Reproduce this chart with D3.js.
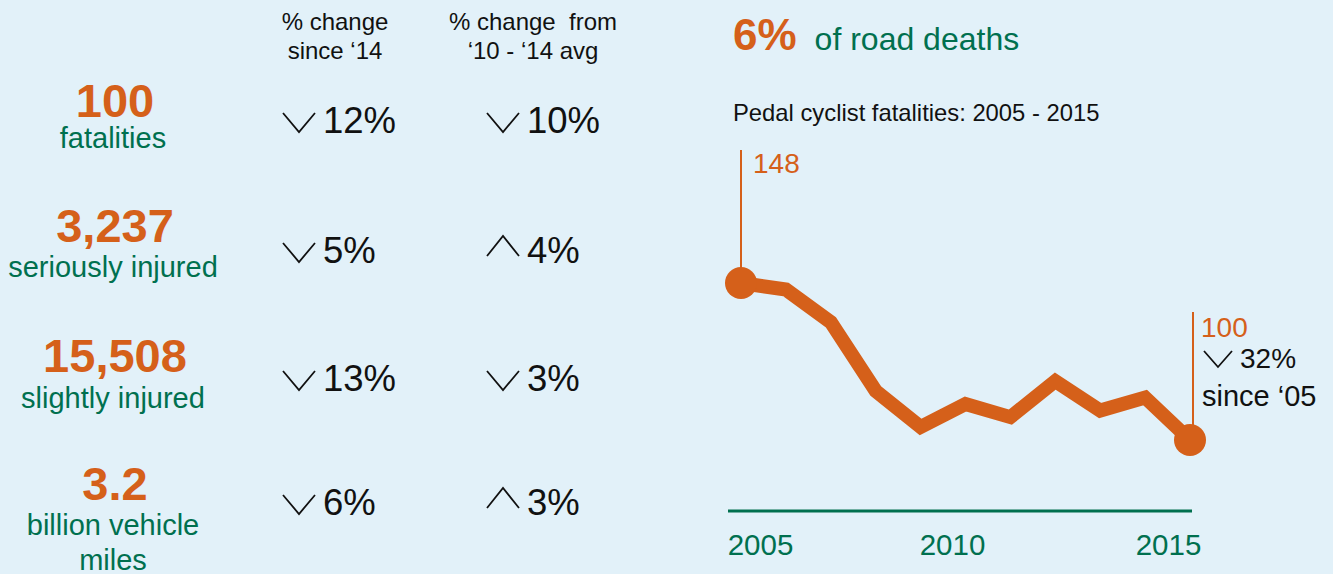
<!DOCTYPE html>
<html lang="en">
	<head>
		<meta charset="utf-8">
		<title>Pedal cyclists</title>
		<script type="text/javascript" src="https://cdn.jsdelivr.net/npm/d3@7"></script>
		<style type="text/css">
			body { margin: 0; background: #e2f1f9; }
			text { font-family: "Liberation Sans", Arial, sans-serif; }
		</style>
	</head>

	<body>
		<script type="text/javascript">
			/* left hand panel */
			var statValues = ["100", "3,237", "15,508", "3.2"];
			var statLabels = [["fatalities"], ["seriously injured"], ["slightly injured"], ["billion vehicle", "miles"]];
			var changeSince14 = [-12, -5, -13, -6];
			var changeVsAvg = [-10, 4, -3, 3];
			var colHeaders = [["% change", "since \u201814"], ["% change  from", "\u201810 - \u201814 avg"]];

			/* line chart */
			var years = [2005, 2006, 2007, 2008, 2009, 2010, 2011, 2012, 2013, 2014, 2015];
			var fatalities = [148, 146, 136, 115, 104, 111, 107, 118, 109, 113, 100];
			var tickYears = [2005, 2010, 2015];

			var orange = "#d5601a";
			var green = "#00704f";

			var svgWidth = 1333;
			var svgHeight = 574;

			var svg = d3.select("body")
				.append("svg")
				.attr("width", svgWidth)
				.attr("height", svgHeight);

			// baselines: % change lines, big numbers, first label line
			var rowY = [133, 263, 391, 515];
			var valueY = [117, 242, 372, 500];
			var labelY = [148, 277, 408, 535];

			// v or ^ drawn as a thin path, x = left edge, y = text baseline
			function chevron(g, x, y, up) {
				var p = d3.path();
				if (up) {
					p.moveTo(x, y - 7); p.lineTo(x + 16, y - 27); p.lineTo(x + 32, y - 7);
				} else {
					p.moveTo(x, y - 20); p.lineTo(x + 16, y - 1); p.lineTo(x + 32, y - 20);
				}
				g.append("path")
					.attr("d", p.toString())
					.attr("fill", "none")
					.attr("stroke", "#111")
					.attr("stroke-width", 1.8);
			}

			var rows = statValues.map(function(v, i) {
				return { value: v, label: statLabels[i], a: changeSince14[i], b: changeVsAvg[i],
					y: rowY[i], vy: valueY[i], ly: labelY[i] };
			});

			var row = svg.selectAll("g.row")
				.data(rows)
				.enter()
				.append("g")
				.attr("class", "row");

			row.append("text")
				.text(function(d) { return d.value; })
				.attr("x", 115)
				.attr("y", function(d) { return d.vy; })
				.attr("text-anchor", "middle")
				.attr("font-size", 47)
				.attr("font-weight", "bold")
				.attr("fill", orange);

			row.each(function(d) {
				var g = d3.select(this);
				d.label.forEach(function(line, j) {
					g.append("text")
						.text(line)
						.attr("x", 113)
						.attr("y", d.ly + j * 35)
						.attr("text-anchor", "middle")
						.attr("font-size", 29)
						.attr("fill", green);
				});
				[[d.a, 283, 323], [d.b, 487, 527]].forEach(function(c) {
					chevron(g, c[1], d.y, c[0] > 0);
					g.append("text")
						.text(Math.abs(c[0]) + "%")
						.attr("x", c[2])
						.attr("y", d.y)
						.attr("font-size", 36.5)
						.attr("fill", "#111");
				});
			});

			// column headers
			[335, 533].forEach(function(cx, i) {
				colHeaders[i].forEach(function(line, j) {
					svg.append("text")
						.text(line)
						.attr("x", cx)
						.attr("y", 30 + j * 29)
						.attr("text-anchor", "middle")
						.attr("font-size", 24)
						.attr("fill", "#111")
						.style("white-space", "pre");
				});
			});

			/* right hand panel */
			var title = svg.append("text").attr("x", 733).attr("y", 50);
			title.append("tspan").text("6%")
				.attr("font-size", 44).attr("font-weight", "bold").attr("fill", orange);
			title.append("tspan").text("of road deaths")
				.attr("dx", 18)
				.attr("font-size", 32).attr("fill", green);

			svg.append("text")
				.text("Pedal cyclist fatalities: 2005 - 2015")
				.attr("x", 733)
				.attr("y", 121)
				.attr("font-size", 23.8)
				.attr("fill", "#111");

			var x = d3.scaleLinear().domain([2005, 2015]).range([741, 1190]);
			var y = d3.scaleLinear().domain([100, 148]).range([440, 283]);

			var pts = years.map(function(yr, i) { return [yr, fatalities[i]]; });

			svg.append("path")
				.datum(pts)
				.attr("d", d3.line()
					.x(function(d) { return x(d[0]); })
					.y(function(d) { return y(d[1]); }))
				.attr("fill", "none")
				.attr("stroke", orange)
				.attr("stroke-width", 14)
				.attr("stroke-linejoin", "miter");

			var ends = [pts[0], pts[pts.length - 1]];
			svg.selectAll("circle.end")
				.data(ends)
				.enter()
				.append("circle")
				.attr("class", "end")
				.attr("cx", function(d) { return x(d[0]); })
				.attr("cy", function(d) { return y(d[1]); })
				.attr("r", 16)
				.attr("fill", orange);

			// leader lines and value labels at both ends
			var first = pts[0], last = pts[pts.length - 1];
			svg.append("line")
				.attr("x1", x(first[0])).attr("x2", x(first[0]))
				.attr("y1", 150).attr("y2", y(first[1]) - 12)
				.attr("stroke", orange).attr("stroke-width", 2);
			svg.append("text")
				.text(first[1])
				.attr("x", x(first[0]) + 12).attr("y", 173)
				.attr("font-size", 28).attr("fill", orange);

			svg.append("line")
				.attr("x1", x(last[0]) + 3).attr("x2", x(last[0]) + 3)
				.attr("y1", 312).attr("y2", y(last[1]) - 10)
				.attr("stroke", orange).attr("stroke-width", 2);
			svg.append("text")
				.text(last[1])
				.attr("x", x(last[0]) + 11).attr("y", 337)
				.attr("font-size", 28).attr("fill", orange);

			var pct = Math.round((first[1] - last[1]) / first[1] * 100);
			var g15 = svg.append("g");
			g15.append("path")
				.attr("d", d3.line()([[1204, 351], [1218, 367], [1232, 351]]))
				.attr("fill", "none").attr("stroke", "#111").attr("stroke-width", 1.8);
			g15.append("text")
				.text(pct + "%")
				.attr("x", 1240).attr("y", 368)
				.attr("font-size", 28).attr("fill", "#111");
			g15.append("text")
				.text("since \u201805")
				.attr("x", 1202).attr("y", 406)
				.attr("font-size", 29).attr("fill", "#111");

			// baseline and year labels
			svg.append("line")
				.attr("x1", 728).attr("x2", 1192)
				.attr("y1", 511).attr("y2", 511)
				.attr("stroke", green).attr("stroke-width", 3);

			var labelX = d3.scaleLinear().domain([2005, 2010, 2015]).range([760, 952, 1168]);
			var axis = svg.append("g")
				.attr("transform", "translate(0,531)")
				.call(d3.axisBottom(labelX)
					.tickValues(tickYears)
					.tickFormat(d3.format("d"))
					.tickSize(0));
			axis.select(".domain").remove();
			axis.selectAll("text")
				.attr("font-size", 29.5)
				.attr("font-family", "Liberation Sans, Arial, sans-serif")
				.attr("fill", green);
		</script>
	</body>
</html>
